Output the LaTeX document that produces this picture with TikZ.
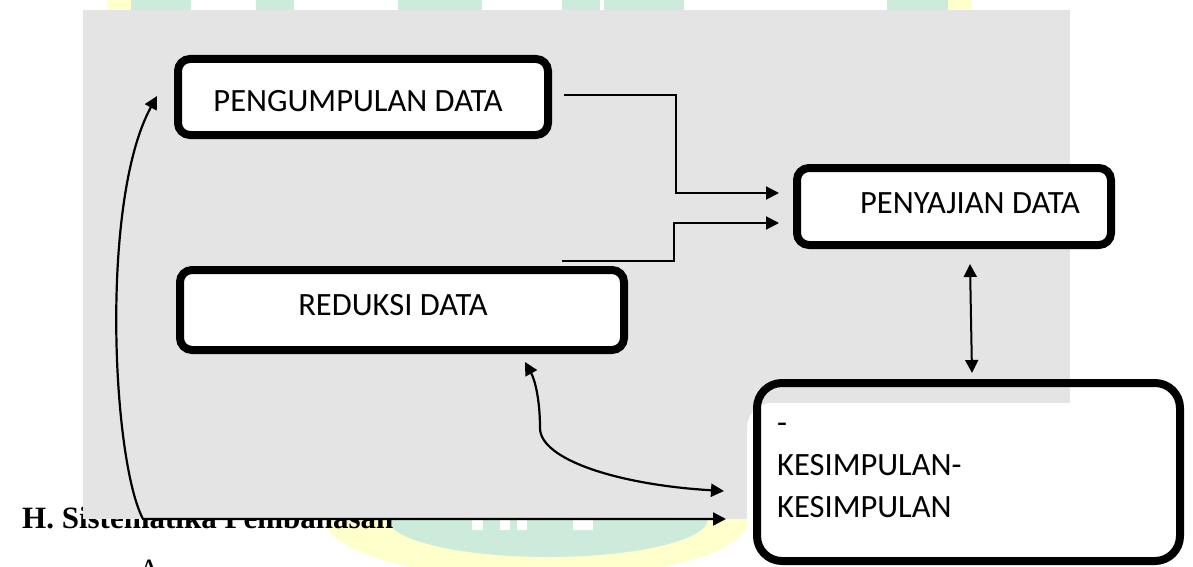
\documentclass[tikz,border=0pt]{standalone}
\usepackage{fontspec}
\setmainfont{Carlito}
\newfontfamily\tnr{Liberation Serif}
\usetikzlibrary{arrows.meta}
\definecolor{bggray}{RGB}{228,228,228}
\definecolor{wmgreen}{RGB}{205,235,218}
\definecolor{wmyellow}{RGB}{255,255,204}
\begin{document}
\begin{tikzpicture}[x=1pt,y=-1pt,
  box/.style={draw=black, line width=8pt, fill=white, rounded corners=12pt, inner sep=0pt},
  lbl/.style={font=\fontsize{32.5}{39}\selectfont, inner sep=0pt},
  conn/.style={line width=2pt},
  curv/.style={line width=2.2pt},
  >={Triangle[length=13pt,width=13pt]}]
\useasboundingbox (0,0) rectangle (1193,567);
\begin{scope}
\clip (0,0) rectangle (1193,567);
% watermark (top strip)
\fill[wmyellow] (107,0) rectangle (131,10);
\fill[wmgreen] (131,0) rectangle (191,10);
\fill[wmgreen] (256,0) rectangle (294,10);
\fill[wmgreen] (398,0) rectangle (482,10);
\fill[wmgreen] (562,0) rectangle (600,10);
\fill[wmgreen] (604,0) rectangle (684,10);
\fill[wmgreen] (887,0) rectangle (948,10);
\fill[wmyellow] (948,0) rectangle (972,10);
% watermark (bottom)
\fill[wmyellow] (537,519) ellipse [x radius=212, y radius=60];
\fill[wmgreen] (548,519) ellipse [x radius=160, y radius=38];
\fill[white] (472,519) rectangle (483,530);
\fill[white] (500,519) rectangle (510,530);
\fill[white] (517,519) rectangle (527,530);
\fill[white] (573,519) rectangle (593,530);
% text under the picture
\node[font=\tnr\bfseries\fontsize{31}{37}\selectfont, anchor=base west, inner sep=0pt] (hd) at (22,528) {H. Sistematika Pembahasan};
\node[font=\tnr\fontsize{31}{37}\selectfont, anchor=base west, inner sep=0pt] (pa) at (138,580) {A};
% gray background
\fill[bggray] (83,10) rectangle (1070,519);
\fill[white, rounded corners=25pt] (747,403) rectangle (1193,600);
\end{scope}
% boxes
\node[box, minimum width=370pt, minimum height=76pt] (pg) at (363,97) {};
\node[lbl, anchor=base] (pgt) at (358,112) {PENGUMPULAN DATA};
\node[box, minimum width=314pt, minimum height=77pt] (pj) at (954,206.5) {};
\node[lbl, anchor=base] (pjt) at (970,213) {PENYAJIAN DATA};
\node[box, minimum width=444pt, minimum height=80pt] (rd) at (402,310) {};
\node[lbl, anchor=base] (rdt) at (393,315) {REDUKSI DATA};
\node[box, fill=none, rounded corners=25pt, minimum width=423pt, minimum height=178pt] (ks) at (968.5,472) {};
\node[lbl, anchor=base west] (ks1) at (777,433) {-};
\node[lbl, anchor=base west] (ks2) at (777,475) {KESIMPULAN-};
\node[lbl, anchor=base west] (ks3) at (777,517) {KESIMPULAN};
% connectors
\draw[conn,->] ([xshift=12pt,yshift=2pt]pg.east) -- ++(112,0) |- ([xshift=-14pt,yshift=13.5pt]pj.west);
\draw[conn,->] ([xshift=160pt,yshift=5pt]rd.north) -- ++(112,0) |- ([xshift=-14pt,yshift=-16.5pt]pj.west);
\draw[conn,<->] ([xshift=16pt,yshift=-15pt]pj.south) -- ([xshift=3.5pt,yshift=6pt]ks.north);
\draw[curv,<->] ([xshift=123pt,yshift=-8pt]rd.south) .. controls (535,380) and (540,400) .. (540,428)
  .. controls (540,460) and (620,485) .. ([xshift=-29pt,yshift=-19pt]ks.west);
\draw[curv,<->] ([xshift=-17pt,yshift=1pt]pg.west) .. controls (100,200) and (112,460) .. (143,519)
  -- ([xshift=-27pt,yshift=-47pt]ks.west);
\end{tikzpicture}
\end{document}
